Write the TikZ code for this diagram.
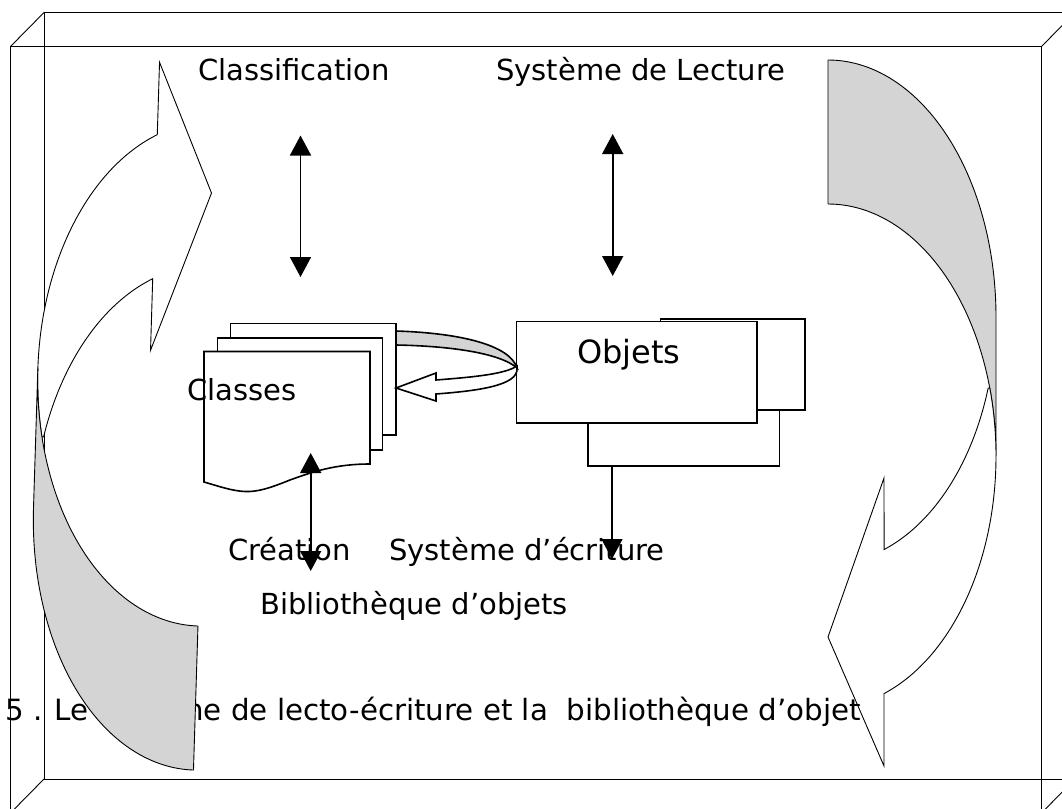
\documentclass[tikz,border=0pt]{standalone}
\usepackage{fontspec}
\setmainfont{DejaVu Sans}
\usetikzlibrary{arrows.meta}
\newcommand{\bandpath}{plot[domain=-90:0,samples=70] ({828+168*cos(\x)},{317+257*sin(\x)}) -- (996,456) -- plot[domain=0:-90,samples=70] ({828+168*cos(\x)},{456+252*sin(\x)}) -- cycle}
\newcommand{\bentpath}{plot[domain=17.6:70.5,samples=50] ({828+168*cos(\x)},{312+252*sin(\x)}) -- (884,478) -- (828,637) -- (884,766) -- (884,694) -- plot[domain=70.5:-15.7,samples=70] ({828+168*cos(\x)},{456+252*sin(\x)}) -- cycle}
\tikzset{
  thinline/.style={draw=black,line width=0.9pt,line join=miter},
  boxline/.style={draw=black,fill=white,line width=1.6pt,line join=miter},
  band/.style={draw=black,fill=black!17,line width=0.9pt,line join=round},
  bent/.style={draw=black,fill=white,line width=0.9pt,line join=miter},
  dbl/.style={draw=black,line width=1.6pt,{Triangle[length=20pt,width=21pt]}-{Triangle[length=20pt,width=21pt]}},
  sgl/.style={draw=black,line width=1.6pt,-{Triangle[length=20pt,width=21pt]}},
  lab/.style={inner sep=0pt,anchor=base west,font=\fontsize{29pt}{31pt}\selectfont},
  flip/.style={cm={-1,0.03125,-0.03125,-1,(1019.6pt,-855.9pt)}}
}
\begin{document}
\begin{tikzpicture}[x=1pt,y=-1pt]
\useasboundingbox (0,0) rectangle (1062,808);
\fill[white] (0,0) rectangle (1062,808);
\begin{scope}
\clip (0,0) rectangle (1062,808);
\draw[thinline] (44,12.5) rectangle (1075,779);
\draw[thinline] (10.5,46.5) rectangle (1041.5,813);
\draw[thinline] (10.5,46.5) -- (44,12.5);
\draw[thinline] (1041.5,46.5) -- (1075,12.5);
\draw[thinline] (10.5,813) -- (44,779);
\draw[thinline] (1041.5,813) -- (1075,779);
\end{scope}
% right curved arrow
\path[band] \bandpath;
\path[bent] \bentpath;
% bottom caption
\node[lab,font=\fontsize{29.3pt}{31pt}\selectfont] (cap) at (5,720) {5 . Le système de lecto-écriture et la\ \ bibliothèque d’objet};
% left curved arrow
\begin{scope}[flip]
\path[bent] \bentpath;
\path[band] \bandpath;
\end{scope}
% class pages
\draw[boxline] (230.5,323.5) rectangle (396,435);
\draw[boxline] (217.5,338) rectangle (382.5,450);
\draw[boxline] (204,351.5) -- (370,351.5) -- (370,464) .. controls (335,464) and (312,472) .. (290,480) .. controls (270,488) and (258,492) .. (245,491.5) .. controls (232,491) and (218,486) .. (204,482) -- cycle;
% object boxes
\draw[boxline] (588,350) rectangle (779.5,466);
\draw[boxline] (660.5,319) rectangle (805,410);
\draw[boxline] (516.5,321.5) rectangle (757,423);
% band and hollow arrow
\draw[boxline,fill=black!17] (396,331) .. controls (460,333) and (510,345) .. (517,368) .. controls (500,353) and (450,346) .. (396,345) -- cycle;
\draw[boxline] (517,366) .. controls (505,374) and (475,377) .. (436,380) -- (436,373) -- (396,388) -- (436,401) -- (436,394) .. controls (475,391) and (519,386) .. (517,368) -- cycle;
% labels
\node[lab] (cl) at (198,80) {Classification};
\node[lab] (sl) at (496,80) {Système de Lecture};
\node[lab] (ca) at (187,400) {Classes};
\node[lab,font=\fontsize{32pt}{34pt}\selectfont] (ob) at (577,363) {Objets};
\node[lab] (cr) at (228,560) {Création};
\node[lab] (se) at (389,560) {Système d’écriture};
\node[lab] (bi) at (260,614) {Bibliothèque d’objets};
% double arrows
\coordinate (a1) at (300.5,135.5); \coordinate (a2) at (300.5,277);
\coordinate (b1) at (612.7,134); \coordinate (b2) at (612.7,276);
\coordinate (c1) at (310.7,453); \coordinate (c2) at (310.7,571);
\coordinate (d1) at (612,466); \coordinate (d2) at (612,559);
\draw[dbl] (a1) -- (a2);
\draw[dbl] (b1) -- (b2);
\draw[dbl] (c1) -- (c2);
\draw[sgl] (d1) -- (d2);
\end{tikzpicture}
\end{document}
